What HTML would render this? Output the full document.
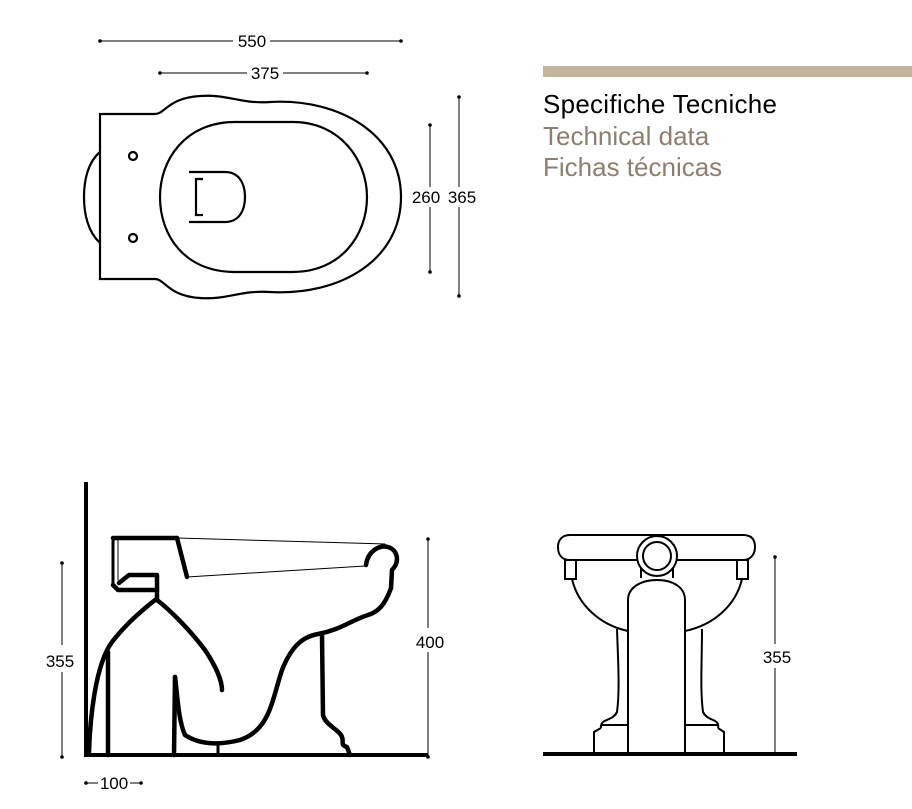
<!DOCTYPE html>
<html><head><meta charset="utf-8"><style>
html,body{margin:0;padding:0;background:#fff;}
svg{display:block;}
text{font-family:"Liberation Sans",Arial,sans-serif;}
</style></head><body>
<svg width="912" height="809" viewBox="0 0 912 809" xmlns="http://www.w3.org/2000/svg">
<!-- title -->
<rect x="543" y="66" width="369" height="11" fill="#c2b59c"/>
<text x="543" y="113" font-size="26" fill="#000" textLength="234">Specifiche Tecniche</text>
<text x="543" y="145" font-size="26" fill="#8c7f70">Technical data</text>
<text x="543" y="176" font-size="26" fill="#8c7f70">Fichas técnicas</text>

<g fill="#000" font-size="17">
<!-- top dims -->
<line x1="100" y1="41" x2="233" y2="41" stroke="#000" stroke-width="1"/>
<line x1="270" y1="41" x2="401" y2="41" stroke="#000" stroke-width="1"/>
<circle cx="100" cy="41" r="1.8"/><circle cx="401" cy="41" r="1.8"/>
<text x="252" y="47" text-anchor="middle">550</text>
<line x1="160" y1="73" x2="247" y2="73" stroke="#000" stroke-width="1"/>
<line x1="283" y1="73" x2="367" y2="73" stroke="#000" stroke-width="1"/>
<circle cx="160" cy="73" r="1.8"/><circle cx="367" cy="73" r="1.8"/>
<text x="265" y="79" text-anchor="middle">375</text>
<line x1="430" y1="125" x2="430" y2="187" stroke="#000" stroke-width="1"/>
<line x1="430" y1="207" x2="430" y2="272" stroke="#000" stroke-width="1"/>
<circle cx="430" cy="125" r="1.8"/><circle cx="430" cy="272" r="1.8"/>
<line x1="459" y1="97" x2="459" y2="187" stroke="#000" stroke-width="1"/>
<line x1="459" y1="207" x2="459" y2="296" stroke="#000" stroke-width="1"/>
<circle cx="459" cy="97" r="1.8"/><circle cx="459" cy="296" r="1.8"/>
<text x="426" y="203" text-anchor="middle">260</text>
<text x="462" y="203" text-anchor="middle">365</text>
</g>

<!-- top view -->
<g fill="none" stroke="#000" stroke-width="2.2">
<path d="M100,114 L155,114 C165,114 168,98 200,96 C228,94 240,104 270,102 C340,98 401,135 401,197 C401,260 340,296 270,292 C240,290 228,300 200,298 C168,296 165,279 155,279 L100,279 Z"/>
<path d="M100,152 C88,162 84,180 84,197 C84,214 88,232 100,243"/>
<path d="M235,122 L293,122 C340,122 367,160 367,197 C367,236 340,272 293,272 L235,272 C185,272 160,236 160,197 C160,160 185,122 235,122 Z"/>
<circle cx="133" cy="156" r="4"/>
<circle cx="133" cy="238" r="4"/>
<path d="M189,172 L225,172 C238,172 245,182 245,197 C245,212 238,222 225,222 L189,222"/>
<path d="M203,179 L196,179 L196,215 L203,215"/>
</g>

<!-- side view -->
<g fill="none" stroke="#000" stroke-linecap="round" stroke-linejoin="round">
<line x1="86" y1="482" x2="86" y2="757" stroke-width="4" stroke-linecap="butt"/>
<line x1="86" y1="755" x2="428" y2="755" stroke-width="4" stroke-linecap="butt"/>
<line x1="113" y1="538" x2="177" y2="538" stroke-width="4.5"/>
<line x1="177" y1="538" x2="187" y2="577" stroke-width="4.5"/>
<line x1="177" y1="538" x2="385" y2="544" stroke-width="1"/>
<line x1="187" y1="577" x2="365" y2="566" stroke-width="1"/>
<line x1="113" y1="538" x2="113" y2="585" stroke-width="3"/>
<line x1="118" y1="540" x2="118" y2="580" stroke-width="1"/>
<path d="M113,585 L118,590 L157,590 L157,575 L129,575 L119,583" stroke-width="4.5"/>
<path d="M366,565 C368,550 380,545 388,547 C398,550 400,562 392,570 L391,588" stroke-width="4.5"/>
<path d="M391,588 C385,605 378,612 368,615 C352,620 340,630 318,634 C300,637 290,650 282,670 C272,700 270,730 240,740 C220,745 200,745 185,735 C178,720 177,690 175,677" stroke-width="4.5"/>
<path d="M175,677 L174,755" stroke-width="4.5"/>
<path d="M322,635 L323,715 C325,725 340,730 342,737 C344,742 340,745 347,747 L350,755" stroke-width="4.5"/>
<path d="M157,590 L157,600 C170,610 190,630 205,650 C215,665 222,680 222,690" stroke-width="4.5"/>
<path d="M155,600 C140,612 125,625 112,642 C95,665 90,720 89,752" stroke-width="4.5"/>
<line x1="108" y1="652" x2="108" y2="755" stroke-width="4.5"/>
<line x1="218" y1="745" x2="218" y2="755" stroke-width="3"/>
</g>
<g fill="#000" font-size="17">
<line x1="62" y1="563" x2="62" y2="645" stroke="#000" stroke-width="1"/>
<line x1="62" y1="672" x2="62" y2="757" stroke="#000" stroke-width="1"/>
<circle cx="62" cy="563" r="1.8"/><circle cx="62" cy="757" r="1.8"/>
<text x="60" y="667" text-anchor="middle">355</text>
<line x1="428" y1="539" x2="428" y2="628" stroke="#000" stroke-width="1"/>
<line x1="428" y1="652" x2="428" y2="757" stroke="#000" stroke-width="1"/>
<circle cx="428" cy="539" r="1.8"/><circle cx="428" cy="757" r="1.8"/>
<text x="430" y="648" text-anchor="middle">400</text>
<line x1="86" y1="783" x2="98" y2="783" stroke="#000" stroke-width="1"/>
<line x1="130" y1="783" x2="141" y2="783" stroke="#000" stroke-width="1"/>
<circle cx="86" cy="783" r="1.8"/><circle cx="141" cy="783" r="1.8"/>
<text x="114" y="789" text-anchor="middle">100</text>
</g>

<!-- front view -->
<g fill="none" stroke="#000" stroke-width="2">
<path d="M570,535 L743,535 C752,535 755,540 755,547 C755,555 750,560 743,560 L570,560 C562,560 558,555 558,547 C558,540 562,535 570,535 Z" fill="#fff"/>
<rect x="565" y="560" width="11" height="19" fill="#fff"/>
<rect x="737" y="560" width="11" height="19" fill="#fff"/>
<path d="M572,579 C578,605 600,625 628,631"/>
<path d="M742,579 C736,605 714,625 685,631"/>
<path d="M617,629 C618,660 620,690 617,712 C612,722 600,718 601,728"/>
<path d="M702,629 C702,660 700,690 703,712 C708,722 720,718 718,728"/>
<path d="M601,725 L628,725 M685,725 L718,725"/>
<path d="M601,728 L594,732 L594,752 M718,728 L724,732 L724,752"/>
<path d="M641,578 L641,562 M673,578 L673,562"/>
<path d="M628,752 L628,600 C628,588 640,580 657,580 C674,580 685,588 685,600 L685,752" fill="#fff"/>
<circle cx="657" cy="556" r="20" fill="#fff"/>
<circle cx="657" cy="556" r="14"/>
</g>
<line x1="543" y1="754" x2="797" y2="754" stroke="#000" stroke-width="4"/>
<g fill="#000" font-size="17">
<line x1="775" y1="557" x2="775" y2="644" stroke="#000" stroke-width="1"/>
<line x1="775" y1="668" x2="775" y2="752" stroke="#000" stroke-width="1"/>
<circle cx="775" cy="557" r="1.8"/>
<text x="777" y="663" text-anchor="middle">355</text>
</g>
</svg>
</body></html>
